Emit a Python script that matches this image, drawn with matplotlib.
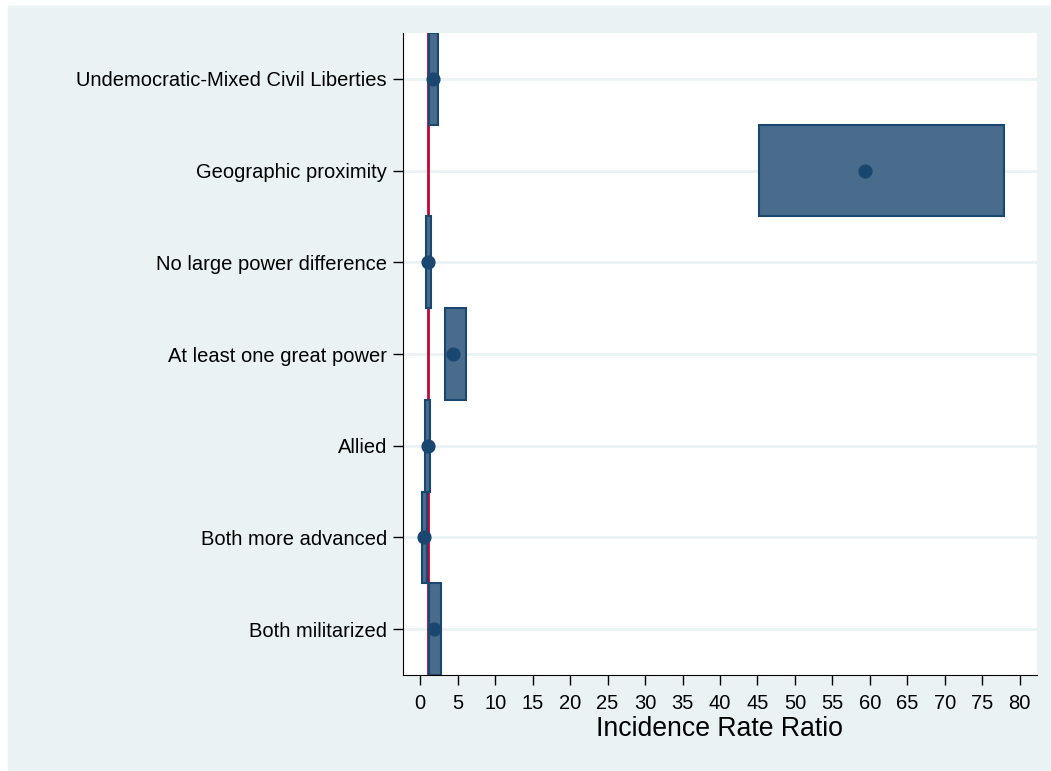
import numpy as np
import matplotlib.pyplot as plt
from matplotlib.patches import Rectangle

plt.rcParams['font.family'] = ['Liberation Sans', 'DejaVu Sans']

labels = ["Undemocratic-Mixed Civil Liberties", "Geographic proximity",
          "No large power difference", "At least one great power",
          "Allied", "Both more advanced", "Both militarized"]
irr = [1.7, 59.3, 1.07, 4.35, 0.98, 0.45, 1.87]
ci_lo = [1.2, 45.2, 0.71, 3.24, 0.58, 0.27, 1.11]
ci_hi = [2.35, 77.9, 1.47, 6.09, 1.33, 0.89, 2.71]
xticks = list(range(0, 85, 5))

navy = "#1A476F"
fill = "#4A6C8C"
bg = "#EAF2F3"

fig = plt.figure(figsize=(10.51, 7.71), dpi=100, facecolor="white")
fig.patches.append(Rectangle((8 / 1051, 0), 1, 1 - 6 / 771,
                             transform=fig.transFigure, color=bg, zorder=-10))
ax = fig.add_axes([403 / 1051, 1 - 675 / 771, (1037 - 403) / 1051, (675 - 33) / 771])
ax.set_facecolor("white")

pos = np.arange(len(labels))
for y, lo, hi in zip(pos, ci_lo, ci_hi):
    ax.add_patch(Rectangle((lo, y - 0.5), hi - lo, 1.0, facecolor=fill,
                           edgecolor=navy, linewidth=1.5, zorder=3))
ax.axvline(1, color="#C10534", linewidth=2, zorder=2)
ax.scatter(irr, pos, s=85, color=navy, zorder=4)

for y in pos:
    ax.axhline(y, color=bg, linewidth=2, zorder=1)

ax.set_ylim(len(labels) - 0.5, -0.5)
ax.set_xlim(-2.3, 82.3)
ax.set_yticks(pos)
ax.set_yticklabels(labels, fontsize=14.5)
ax.set_xticks(xticks)
ax.set_xticklabels([str(t) for t in xticks], fontsize=14.5)
ax.tick_params(axis="both", length=7.5, width=1, color="black")
ax.tick_params(axis="y", pad=4)
ax.tick_params(axis="x", pad=6)
ax.set_xlabel("Incidence Rate Ratio", fontsize=19.2, labelpad=2)

ax.spines["top"].set_visible(False)
ax.spines["right"].set_visible(False)

fig.savefig("out.png", dpi=100, facecolor="white")
